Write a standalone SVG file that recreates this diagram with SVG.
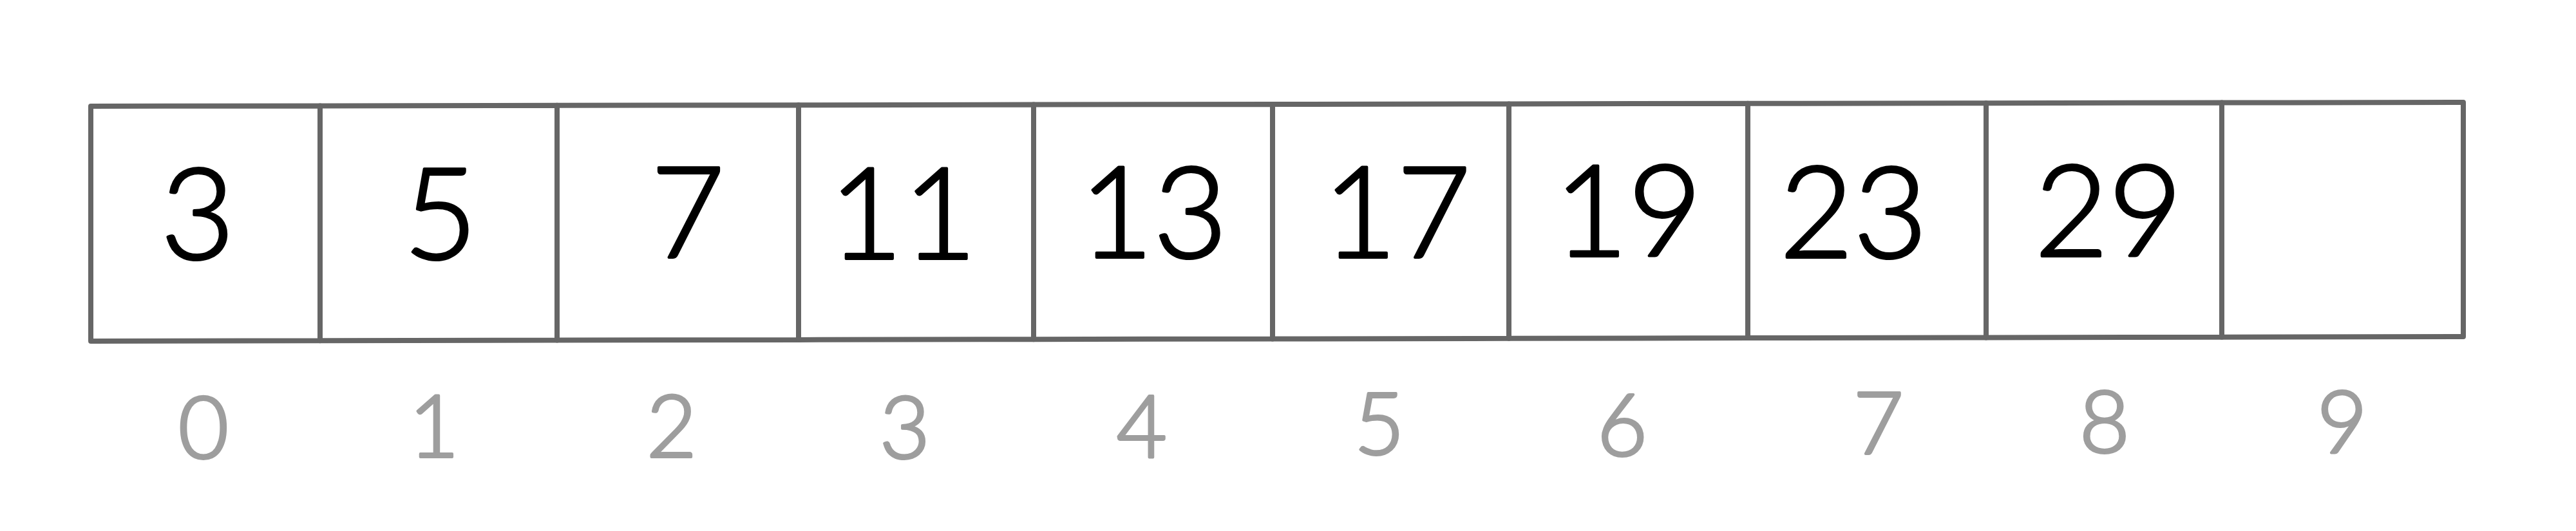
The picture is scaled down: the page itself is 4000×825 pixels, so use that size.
<svg xmlns="http://www.w3.org/2000/svg" width="4000" height="825" viewBox="0 0 4000 825">
<style>
  .cell { fill: #ffffff; stroke: #666666; stroke-width: 8; stroke-linejoin: round; }
  .val { font-family: Lato, "Open Sans", Roboto, "Liberation Sans", sans-serif; font-weight: 300; font-size: 198px; fill: #000000; stroke: #000000; stroke-width: 4; stroke-linejoin: round; text-anchor: middle; }
  .idx { font-family: Lato, "Open Sans", Roboto, "Liberation Sans", sans-serif; font-weight: 300; font-size: 135px; fill: #9e9e9e; stroke: #9e9e9e; stroke-width: 4; stroke-linejoin: round; text-anchor: middle; }
</style>
<rect x="0" y="0" width="4000" height="825" fill="#ffffff"/>
<g id="connectors"></g>
<g id="cell-0">
  <polygon class="cell" points="141,165 497,164.4 497,529.3 141,530"/>
  <text class="val" x="307" y="402">3</text>
  <text class="idx" x="316" y="712">0</text>
</g>
<g id="cell-1">
  <polygon class="cell" points="497,164.4 865,163.8 865,528.6 497,529.3"/>
  <text class="val" x="684" y="402">5</text>
  <text class="idx" x="674" y="710">1</text>
</g>
<g id="cell-2">
  <polygon class="cell" points="865,163.8 1240,163.2 1240,527.9 865,528.6"/>
  <text class="val" x="1068" y="400">7</text>
  <text class="idx" x="1043" y="710">2</text>
</g>
<g id="cell-3">
  <polygon class="cell" points="1240,163.2 1605,162.6 1605,527.2 1240,527.9"/>
  <text class="val" x="1402" y="402">11</text>
  <text class="idx" x="1405" y="712">3</text>
</g>
<g id="cell-4">
  <polygon class="cell" points="1605,162.6 1976,162 1976,526.5 1605,527.2"/>
  <text class="val" x="1791" y="400">13</text>
  <text class="idx" x="1773" y="710">4</text>
</g>
<g id="cell-5">
  <polygon class="cell" points="1976,162 2343,161.4 2343,525.8 1976,526.5"/>
  <text class="val" x="2169" y="400">17</text>
  <text class="idx" x="2142" y="706">5</text>
</g>
<g id="cell-6">
  <polygon class="cell" points="2343,161.4 2714,160.8 2714,525.1 2343,525.8"/>
  <text class="val" x="2528" y="398">19</text>
  <text class="idx" x="2519" y="708">6</text>
</g>
<g id="cell-7">
  <polygon class="cell" points="2714,160.8 3084,160.2 3084,524.4 2714,525.1"/>
  <text class="val" x="2878" y="400">23</text>
  <text class="idx" x="2917" y="705">7</text>
</g>
<g id="cell-8">
  <polygon class="cell" points="3084,160.2 3450,159.6 3450,523.7 3084,524.4"/>
  <text class="val" x="3274" y="398">29</text>
  <text class="idx" x="3268" y="703">8</text>
</g>
<g id="cell-9">
  <polygon class="cell" points="3450,159.6 3825,159 3825,523 3450,523.7"/>
  <text class="idx" x="3637" y="703">9</text>
</g>
</svg>
